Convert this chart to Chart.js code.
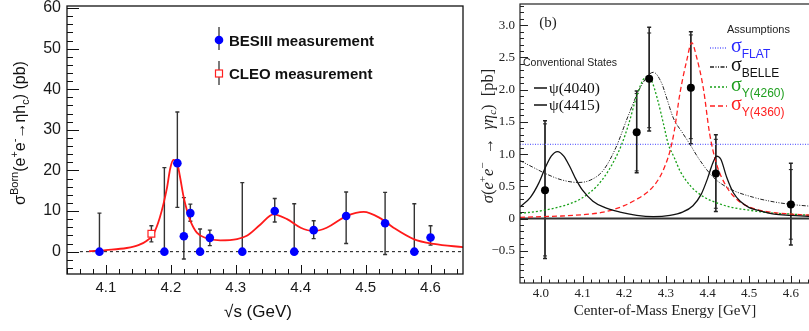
<!DOCTYPE html>
<html>
<head>
<meta charset="utf-8">
<script src="https://cdn.jsdelivr.net/npm/chart.js@4.4.1/dist/chart.umd.min.js"></script>
<style>
  html, body { margin: 0; padding: 0; background: #fff; overflow: hidden; }
  #wrapA { position: absolute; left: 0; top: 0; width: 480px; height: 331px; }
  #wrapB { position: absolute; left: 480px; top: 0; width: 329px; height: 331px; overflow: hidden; }
</style>
</head>
<body>
<div id="wrapA"><canvas id="left" width="480" height="331"></canvas></div>
<div id="wrapB"><canvas id="right" width="340" height="331"></canvas></div>
<script>
// ---------- left panel : BESIII / CLEO ----------
const besE  = [4.09, 4.19, 4.21, 4.22, 4.23, 4.245, 4.26, 4.31, 4.36, 4.39, 4.42, 4.47, 4.53, 4.575, 4.60];
const besXs = [0, 0, 21.8, 3.8, 9.5, 0, 3.4, 0, 10.0, 0, 5.3, 8.8, 7.0, 0, 3.5];
const besLo = [0, 0, 10.9, -1.8, 7.5, 0, 1.5, 0, 7.3, 0, 3.2, 2.0, -0.7, 0, 1.6];
const besHi = [9.5, 20.7, 34.4, 13.3, 11.7, 5.6, 5.3, 17.0, 13.1, 11.8, 7.6, 14.7, 14.6, 11.8, 6.4];

const cleoE  = [4.17];
const cleoXs = [4.4];
const cleoLo = [2.4];
const cleoHi = [6.4];

// red fit curve
const fitE  = [4.074, 4.10, 4.132, 4.15, 4.163, 4.173, 4.183, 4.194, 4.199, 4.204, 4.209, 4.214, 4.219, 4.225, 4.23, 4.24, 4.255, 4.276, 4.302, 4.317, 4.338, 4.358, 4.379, 4.40, 4.42, 4.44, 4.471, 4.497, 4.523, 4.543, 4.574, 4.605, 4.651];
const fitXs = [0.1, 0.4, 0.9, 1.6, 2.7, 4.3, 8.4, 15.7, 20.5, 22.6, 22.2, 18.5, 14.0, 10.0, 7.6, 4.7, 3.3, 2.8, 3.1, 3.9, 6.7, 9.2, 8.0, 5.9, 5.1, 5.9, 8.8, 9.8, 8.2, 5.9, 3.1, 1.9, 1.1];
const zeroLineL = [4.06, 4.65];

const leftXTicks = [4.1, 4.2, 4.3, 4.4, 4.5, 4.6];
const leftYTicks = [0, 10, 20, 30, 40, 50, 60];

// ---------- right panel : CLEO-c gamma eta_c ----------
const ccE      = [4.01, 4.23, 4.26, 4.36, 4.42, 4.60];
const ccXs     = [0.44, 1.34, 2.17, 2.03, 0.70, 0.22];
const ccLoTot  = [-0.62, 0.71, 1.36, 1.16, 0.11, -0.41];
const ccHiTot  = [1.52, 1.98, 2.97, 2.90, 1.30, 0.86];
const ccLoStat = [-0.58, 0.74, 1.41, 1.24, 0.16, -0.32];
const ccHiStat = [1.47, 1.94, 2.88, 2.85, 1.23, 0.76];

const psiE  = [3.95, 3.975, 3.995, 4.01, 4.025, 4.04, 4.055, 4.07, 4.085, 4.10, 4.125, 4.15, 4.19, 4.23, 4.27, 4.31, 4.34, 4.365, 4.385, 4.40, 4.412, 4.422, 4.432, 4.446, 4.462, 4.48, 4.50, 4.525, 4.56, 4.60, 4.65];
const psiXs = [0.18, 0.33, 0.55, 0.78, 0.97, 1.04, 0.97, 0.80, 0.60, 0.44, 0.27, 0.18, 0.10, 0.05, 0.03, 0.05, 0.10, 0.20, 0.38, 0.62, 0.85, 0.97, 0.92, 0.64, 0.40, 0.26, 0.17, 0.12, 0.07, 0.05, 0.03];

const belleE  = [3.95, 3.98, 4.014, 4.05, 4.09, 4.12, 4.15, 4.18, 4.21, 4.24, 4.27, 4.29, 4.302, 4.318, 4.34, 4.358, 4.38, 4.414, 4.454, 4.51, 4.55, 4.60, 4.65];
const belleXs = [0.90, 0.80, 0.69, 0.60, 0.56, 0.60, 0.75, 1.10, 1.60, 2.05, 2.27, 2.10, 1.87, 1.56, 1.33, 1.15, 0.92, 0.64, 0.46, 0.33, 0.27, 0.22, 0.19];

const y4260E  = [3.95, 4.0, 4.05, 4.094, 4.134, 4.16, 4.18, 4.194, 4.21, 4.23, 4.245, 4.255, 4.265, 4.28, 4.295, 4.306, 4.32, 4.334, 4.36, 4.39, 4.42, 4.454, 4.50, 4.55, 4.60, 4.65];
const y4260Xs = [0.08, 0.12, 0.19, 0.30, 0.50, 0.72, 0.95, 1.15, 1.45, 1.90, 2.15, 2.20, 2.15, 1.85, 1.45, 1.15, 0.95, 0.74, 0.50, 0.34, 0.25, 0.18, 0.13, 0.09, 0.07, 0.05];

const y4360E  = [3.95, 4.0, 4.05, 4.10, 4.15, 4.20, 4.23, 4.254, 4.27, 4.286, 4.30, 4.31, 4.32, 4.334, 4.35, 4.362, 4.374, 4.39, 4.405, 4.421, 4.445, 4.47, 4.50, 4.55, 4.60, 4.65];
const y4360Xs = [0.02, 0.03, 0.04, 0.06, 0.10, 0.20, 0.30, 0.40, 0.50, 0.65, 0.85, 1.05, 1.35, 1.95, 2.45, 2.73, 2.50, 2.02, 1.32, 0.86, 0.50, 0.30, 0.18, 0.10, 0.07, 0.05];

const flatLevel = 1.15;
const rightRange = [3.95, 4.65];
const rightXTicks = [4.0, 4.1, 4.2, 4.3, 4.4, 4.5, 4.6];
const rightYTicks = [-0.5, 0, 0.5, 1.0, 1.5, 2.0, 2.5, 3.0];

const pts = (xs, ys) => xs.map((x, i) => ({ x: x, y: ys[i] }));

// ---------- helpers ----------
function stepValues(min, max, step) {
  const out = [];
  for (let v = Math.ceil(min / step - 1e-6) * step; v <= max + 1e-9; v += step) out.push(+v.toFixed(4));
  return out;
}

function innerTicks(ctx, area, scale, values, len, axis) {
  ctx.beginPath();
  values.forEach(v => {
    const p = Math.round(scale.getPixelForValue(v)) + 0.5;
    if (axis === 'x') {
      if (p < area.left || p > area.right) return;
      ctx.moveTo(p, area.bottom); ctx.lineTo(p, area.bottom - len);
    } else {
      if (p < area.top || p > area.bottom) return;
      ctx.moveTo(area.left, p); ctx.lineTo(area.left + len, p);
    }
  });
  ctx.stroke();
}

function errBars(chart, xs, lo, hi, cap) {
  const ctx = chart.ctx, sx = chart.scales.x, sy = chart.scales.y;
  xs.forEach((x, i) => {
    const px = sx.getPixelForValue(x);
    const y1 = sy.getPixelForValue(lo[i]), y2 = sy.getPixelForValue(hi[i]);
    ctx.beginPath();
    ctx.moveTo(px, y1); ctx.lineTo(px, y2);
    ctx.moveTo(px - cap, y2); ctx.lineTo(px + cap, y2);
    if (lo[i] !== 0 || hi[i] === 0) { ctx.moveTo(px - cap, y1); ctx.lineTo(px + cap, y1); }
    ctx.stroke();
  });
}

// parts: [text, font, dy, color]
function richText(ctx, parts, x, y, align) {
  let w = 0;
  parts.forEach(p => { ctx.font = p[1]; w += ctx.measureText(p[0]).width; });
  let cx = align === 'center' ? x - w / 2 : x;
  ctx.textAlign = 'left';
  ctx.textBaseline = 'alphabetic';
  parts.forEach(p => {
    ctx.font = p[1];
    if (p[3]) ctx.fillStyle = p[3];
    ctx.fillText(p[0], cx, y + (p[2] || 0));
    cx += ctx.measureText(p[0]).width;
  });
}

// ---------- left chart ----------
const SANS = '"Liberation Sans", Arial, sans-serif';
const SERIF = '"Liberation Serif", "Times New Roman", serif';

const leftDecor = {
  id: 'leftDecor',
  beforeDatasetsDraw(chart) {
    const ctx = chart.ctx;
    ctx.save();
    ctx.strokeStyle = '#333';
    ctx.lineWidth = 1.4;
    errBars(chart, besE, besLo, besHi, 2);
    errBars(chart, cleoE, cleoLo, cleoHi, 2);
    ctx.restore();
  },
  afterDraw(chart) {
    const ctx = chart.ctx, a = chart.chartArea;
    ctx.save();
    ctx.strokeStyle = '#111';
    ctx.lineWidth = 1.3;
    ctx.strokeRect(a.left, a.top, a.right - a.left, a.bottom - a.top);
    ctx.lineWidth = 1;
    innerTicks(ctx, a, chart.scales.y, stepValues(-5.5, 60.5, 2), 6, 'y');
    innerTicks(ctx, a, chart.scales.y, leftYTicks, 12, 'y');
    innerTicks(ctx, a, chart.scales.x, stepValues(4.04, 4.65, 0.02), 5, 'x');
    innerTicks(ctx, a, chart.scales.x, leftXTicks, 9, 'x');

    // legend
    ctx.strokeStyle = '#444';
    ctx.lineWidth = 1.4;
    ctx.beginPath();
    ctx.moveTo(219, 27); ctx.lineTo(219, 50);
    ctx.moveTo(219, 61); ctx.lineTo(219, 85);
    ctx.stroke();
    ctx.fillStyle = '#0000ff';
    ctx.beginPath(); ctx.arc(219, 40, 4.3, 0, Math.PI * 2); ctx.fill();
    ctx.fillStyle = '#fff';
    ctx.fillRect(215.5, 70, 7, 7);
    ctx.strokeStyle = '#ff2020';
    ctx.lineWidth = 1.2;
    ctx.strokeRect(215.5, 70, 7, 7);
    ctx.fillStyle = '#111';
    ctx.font = 'bold 15px ' + SANS;
    ctx.textBaseline = 'middle';
    ctx.textAlign = 'left';
    ctx.fillText('BESIII measurement', 229, 42);
    ctx.fillText('CLEO measurement', 229, 75);

    // axis titles
    ctx.font = '17px ' + SANS;
    ctx.textAlign = 'center';
    ctx.fillText('\u221As (GeV)', 258, 312);

    ctx.translate(25, 133);
    ctx.rotate(-Math.PI / 2);
    const big = '16px ' + SANS, small = '11px ' + SANS;
    richText(ctx, [
      ['\u03C3', big], ['Born', small, -7], ['(e', big], ['+', small, -7], ['e', big], ['-', small, -7],
      ['\u2192\u03B7h', big], ['c', small, 4], [') (pb)', big]
    ], 0, 0, 'center');
    ctx.restore();
  }
};

new Chart(document.getElementById('left'), {
  type: 'scatter',
  data: {
    datasets: [
      { data: pts(besE, besXs), pointRadius: 4.3, pointBackgroundColor: '#0000ff', pointBorderWidth: 0 },
      { data: pts(cleoE, cleoXs), pointStyle: 'rect', pointRadius: 4.8, pointBackgroundColor: '#fff', pointBorderColor: '#ff2020', pointBorderWidth: 1.2 },
      { data: pts(fitE, fitXs), showLine: true, borderColor: '#ff1a1a', borderWidth: 1.8, pointRadius: 0, cubicInterpolationMode: 'monotone' },
      { data: pts(zeroLineL, [0, 0]), showLine: true, borderColor: '#111', borderWidth: 1, borderDash: [3, 3], pointRadius: 0 }
    ]
  },
  options: {
    responsive: false,
    animation: false,
    events: [],
    layout: { padding: { left: 0, right: 17, top: 4.5, bottom: 0 } },
    plugins: { legend: { display: false }, tooltip: { enabled: false } },
    scales: {
      x: {
        type: 'linear', min: 4.04, max: 4.65,
        afterBuildTicks: s => { s.ticks = leftXTicks.map(v => ({ value: v })); },
        afterFit: s => { s.height = 57; s.paddingLeft = 0; s.paddingRight = 0; },
        grid: { display: false, drawTicks: false },
        border: { display: false },
        ticks: { font: { family: SANS, size: 15 }, color: '#1a1a1a', padding: 5, maxRotation: 0, autoSkip: false, callback: v => v.toFixed(1) }
      },
      y: {
        type: 'linear', min: -5.5, max: 60.5,
        afterBuildTicks: s => { s.ticks = leftYTicks.map(v => ({ value: v })); },
        afterFit: s => { s.width = 67; s.paddingTop = 0; s.paddingBottom = 0; },
        grid: { display: false, drawTicks: false },
        border: { display: false },
        ticks: { font: { family: SANS, size: 16 }, color: '#1a1a1a', padding: 6, callback: v => String(v) }
      }
    }
  },
  plugins: [leftDecor]
});

// ---------- right chart ----------
const rightDecor = {
  id: 'rightDecor',
  beforeDatasetsDraw(chart) {
    const ctx = chart.ctx;
    ctx.save();
    ctx.strokeStyle = '#222';
    ctx.lineWidth = 1.5;
    errBars(chart, ccE, ccLoTot, ccHiTot, 2);
    ctx.lineWidth = 1;
    errBars(chart, ccE, ccLoStat, ccHiStat, 2);
    ctx.restore();
  },
  afterDraw(chart) {
    const ctx = chart.ctx, a = chart.chartArea;
    ctx.save();
    ctx.strokeStyle = '#222';
    ctx.lineWidth = 1.2;
    ctx.strokeRect(a.left, a.top, a.right - a.left, a.bottom - a.top);
    ctx.lineWidth = 1;
    innerTicks(ctx, a, chart.scales.y, stepValues(-1.0, 3.33, 0.1), 4, 'y');
    innerTicks(ctx, a, chart.scales.y, rightYTicks, 8, 'y');
    innerTicks(ctx, a, chart.scales.x, stepValues(3.95, 4.65, 0.02), 3.5, 'x');
    innerTicks(ctx, a, chart.scales.x, rightXTicks, 7, 'x');

    // panel label and legends (canvas x = page x - 480)
    ctx.fillStyle = '#222';
    ctx.font = '15px ' + SERIF;
    ctx.textAlign = 'center';
    ctx.textBaseline = 'middle';
    ctx.fillText('(b)', 68, 23);

    ctx.font = '10.5px ' + SANS;
    ctx.textAlign = 'left';
    ctx.fillText('Conventional States', 43, 63);
    ctx.font = '11px ' + SANS;
    ctx.fillText('Assumptions', 247, 30);

    ctx.strokeStyle = '#111';
    ctx.lineWidth = 1.3;
    ctx.beginPath();
    ctx.moveTo(54, 88); ctx.lineTo(67, 88);
    ctx.moveTo(54, 105); ctx.lineTo(67, 105);
    ctx.stroke();
    richText(ctx, [['\u03C8(4040)', '15.5px ' + SERIF, 0, '#111']], 69, 93, 'left');
    richText(ctx, [['\u03C8(4415)', '15.5px ' + SERIF, 0, '#111']], 69, 110, 'left');

    const rows = [
      [48, '#6666ff', [1, 1.5], 'FLAT', '#2a2aff'],
      [67, '#222', [4, 1.5, 1, 1.5, 1, 1.5], 'BELLE', '#111'],
      [87, '#18a018', [2, 2], 'Y(4260)', '#1f9f1f'],
      [106, '#ff2020', [5, 3], 'Y(4360)', '#ff2020']
    ];
    rows.forEach(r => {
      ctx.strokeStyle = r[1];
      ctx.lineWidth = 1.3;
      ctx.setLineDash(r[2]);
      ctx.beginPath(); ctx.moveTo(230, r[0]); ctx.lineTo(247, r[0]); ctx.stroke();
      ctx.setLineDash([]);
      richText(ctx, [['\u03C3', '20px ' + SERIF, 0, r[4]], [r[3], '12px ' + SANS, 6, r[4]]], 251, r[0] + 4, 'left');
    });

    // axis titles
    ctx.fillStyle = '#222';
    ctx.font = '15px ' + SERIF;
    ctx.textAlign = 'center';
    ctx.textBaseline = 'middle';
    ctx.fillText('Center-of-Mass Energy [GeV]', 185, 311);

    ctx.translate(13, 136);
    ctx.rotate(-Math.PI / 2);
    const it = 'italic 16.5px ' + SERIF, up = '16.5px ' + SERIF, sm = '11px ' + SERIF, smi = 'italic 11px ' + SERIF;
    richText(ctx, [
      ['\u03C3', it], ['(', up], ['e', it], ['+', sm, -7], ['e', it], ['\u2212', sm, -7],
      ['  \u2192  ', up], ['\u03B3\u03B7', it], ['c', smi, 3], [')', up], ['  [pb]', up]
    ], 0, 0, 'center');
    ctx.restore();
  }
};

new Chart(document.getElementById('right'), {
  type: 'scatter',
  data: {
    datasets: [
      { data: pts(ccE, ccXs), pointRadius: 4, pointBackgroundColor: '#000', pointBorderWidth: 0 },
      { data: pts(psiE, psiXs), showLine: true, borderColor: '#111', borderWidth: 1.3, pointRadius: 0, cubicInterpolationMode: 'monotone' },
      { data: pts(y4360E, y4360Xs), showLine: true, borderColor: '#ff2020', borderWidth: 1.3, borderDash: [5, 3], pointRadius: 0, cubicInterpolationMode: 'monotone' },
      { data: pts(y4260E, y4260Xs), showLine: true, borderColor: '#18a018', borderWidth: 1.3, borderDash: [2, 2], pointRadius: 0, cubicInterpolationMode: 'monotone' },
      { data: pts(belleE, belleXs), showLine: true, borderColor: '#222', borderWidth: 1, borderDash: [4, 1.5, 1, 1.5, 1, 1.5], pointRadius: 0, cubicInterpolationMode: 'monotone' },
      { data: pts(rightRange, [flatLevel, flatLevel]), showLine: true, borderColor: '#6666ff', borderWidth: 1.2, borderDash: [1, 1.5], pointRadius: 0 },
      { data: pts(rightRange, [0, 0]), showLine: true, borderColor: '#333', borderWidth: 2, pointRadius: 0 }
    ]
  },
  options: {
    responsive: false,
    animation: false,
    events: [],
    layout: { padding: { left: 0, right: 8.3, top: 1, bottom: 0 } },
    plugins: { legend: { display: false }, tooltip: { enabled: false } },
    scales: {
      x: {
        type: 'linear', min: rightRange[0], max: rightRange[1],
        afterBuildTicks: s => { s.ticks = rightXTicks.map(v => ({ value: v })); },
        afterFit: s => { s.height = 48; s.paddingLeft = 0; s.paddingRight = 0; },
        grid: { display: false, drawTicks: false },
        border: { display: false },
        ticks: { font: { family: SERIF, size: 13 }, color: '#222', padding: 3, maxRotation: 0, autoSkip: false, callback: v => v.toFixed(1) }
      },
      y: {
        type: 'linear', min: -1.0, max: 3.33,
        afterBuildTicks: s => { s.ticks = rightYTicks.map(v => ({ value: v })); },
        afterFit: s => { s.width = 40; s.paddingTop = 0; s.paddingBottom = 0; },
        grid: { display: false, drawTicks: false },
        border: { display: false },
        ticks: {
          font: { family: SERIF, size: 13 }, color: '#222', padding: 5,
          callback: v => v === 0 ? '0' : (v < 0 ? '\u2212' + Math.abs(v).toFixed(1) : v.toFixed(1))
        }
      }
    }
  },
  plugins: [rightDecor]
});
</script>
</body>
</html>
